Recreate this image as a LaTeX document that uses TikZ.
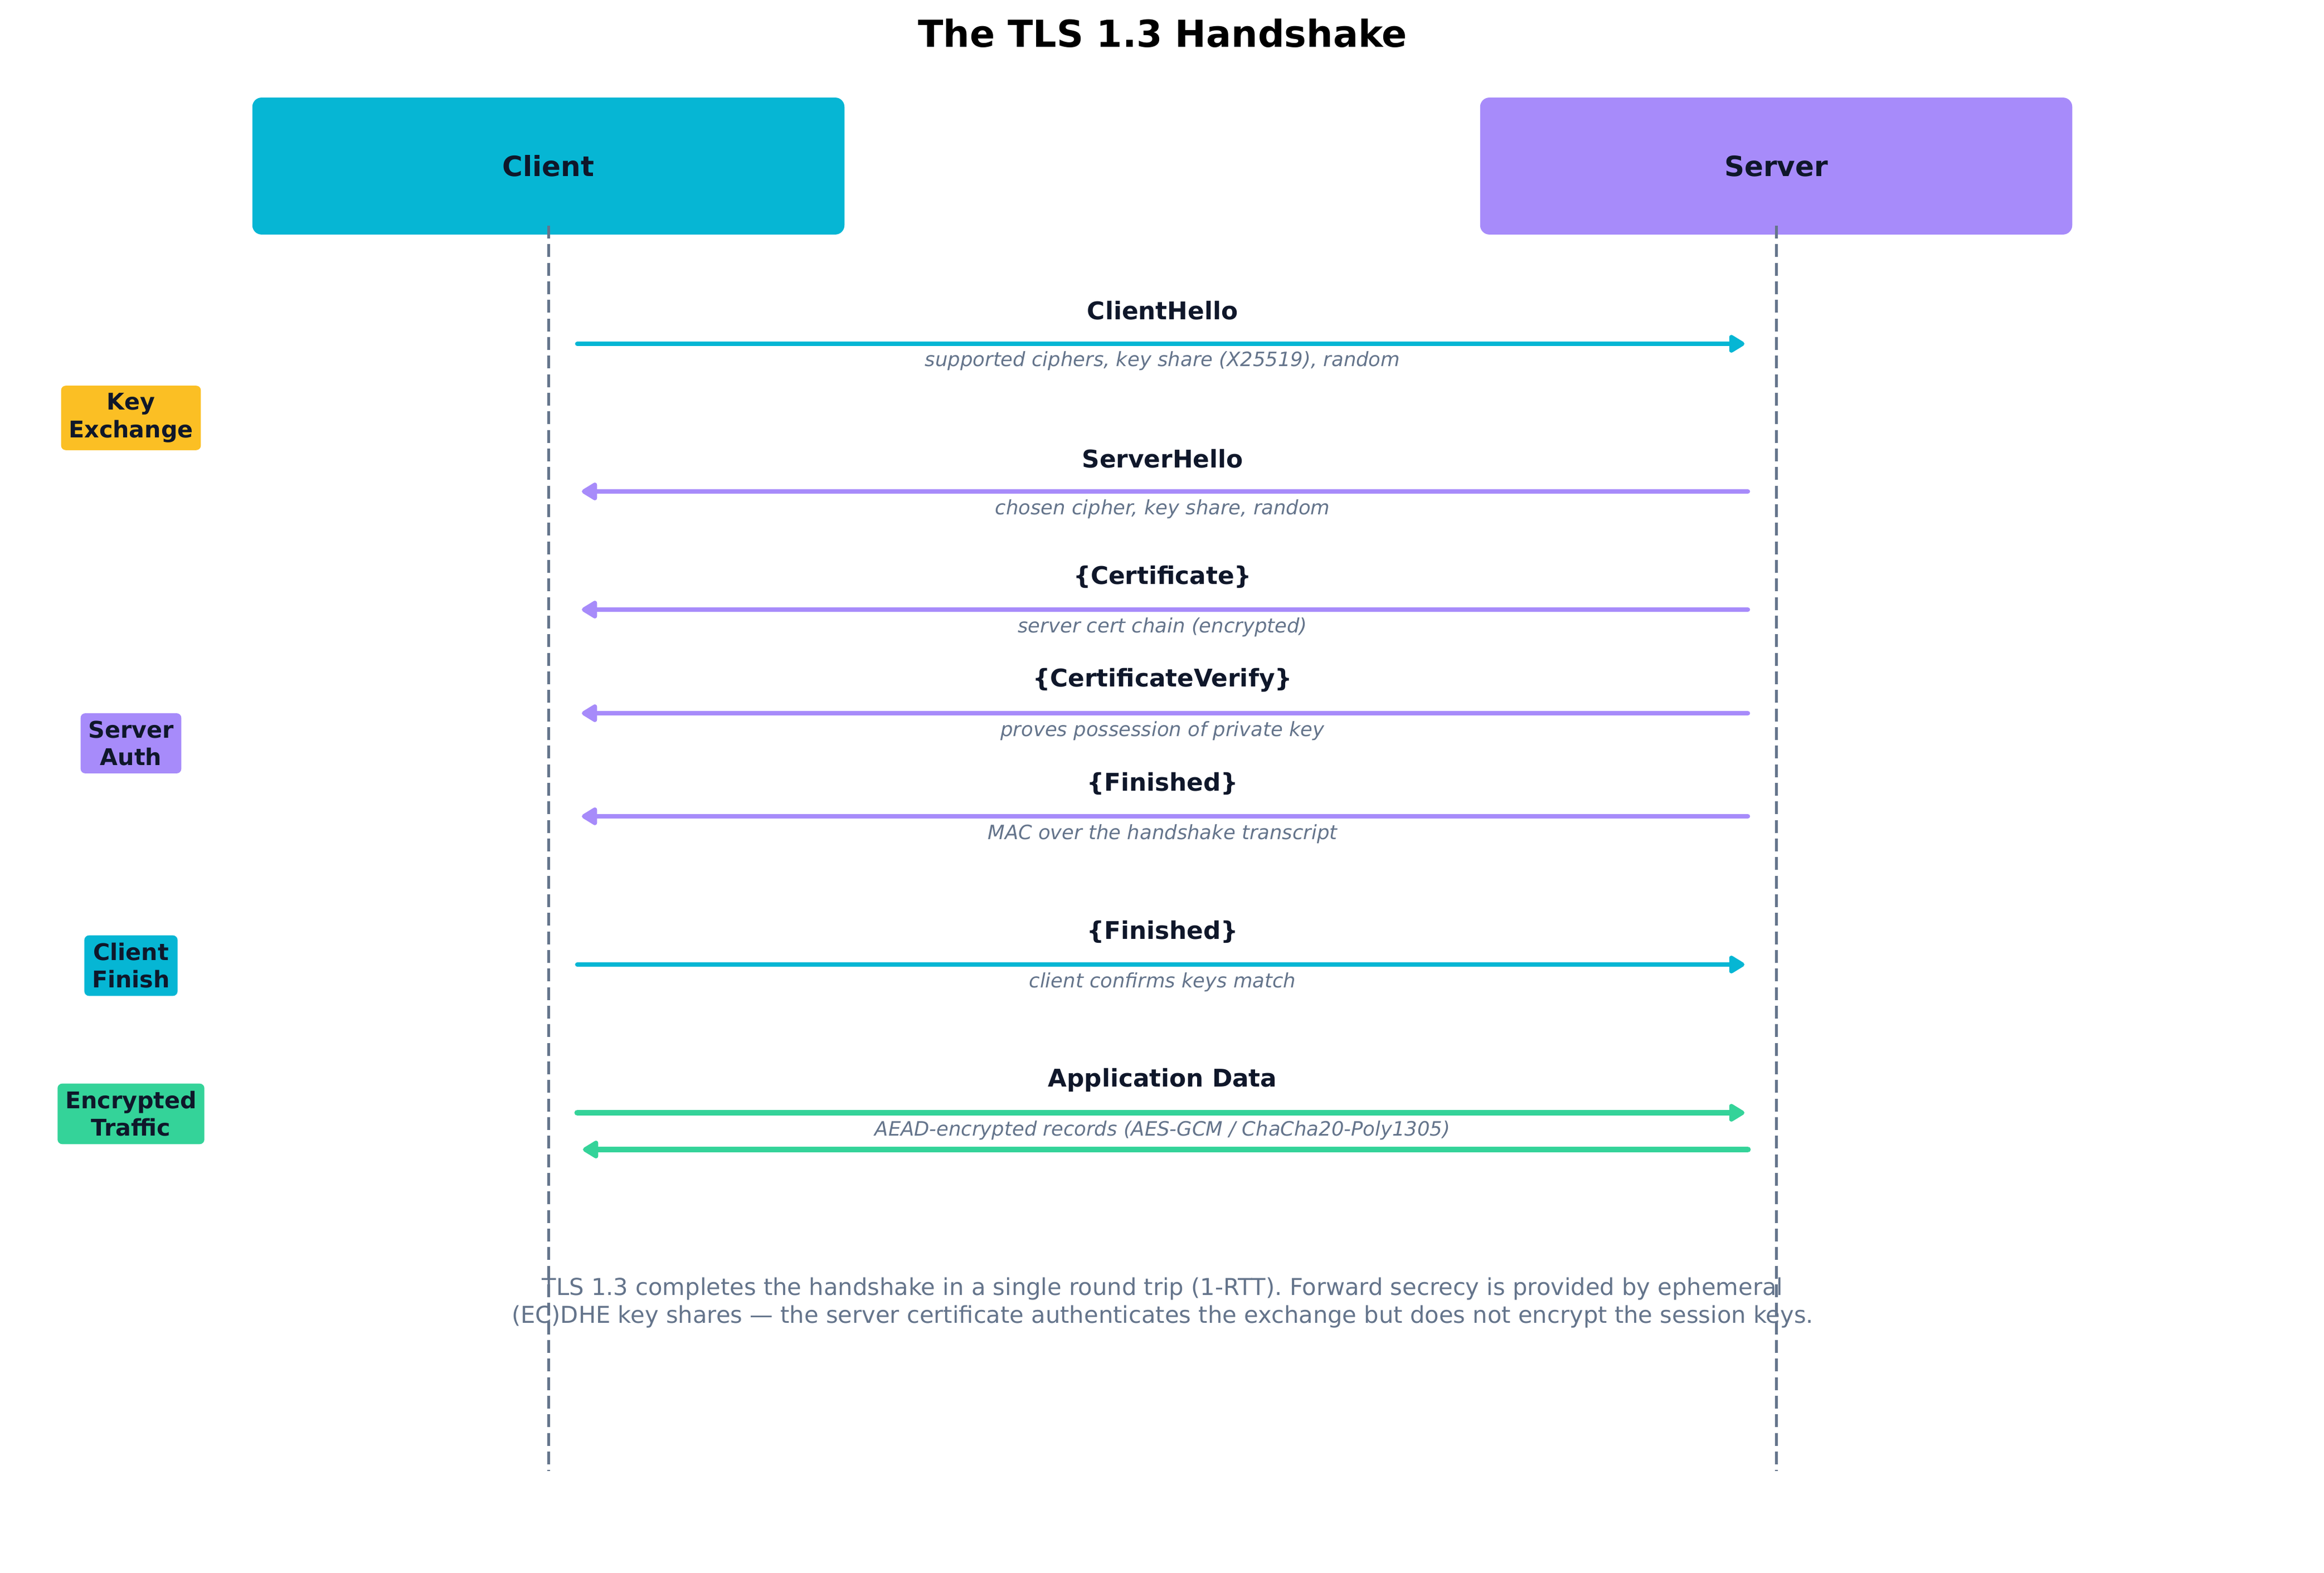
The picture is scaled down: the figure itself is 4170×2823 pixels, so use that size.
\documentclass[tikz,border=0pt]{standalone}
\usepackage{fontspec}
\setmainfont{DejaVu Sans}
\usetikzlibrary{arrows.meta}
\definecolor{clientcol}{HTML}{06B6D4}
\definecolor{servercol}{HTML}{A78BFA}
\definecolor{keycol}{HTML}{FBBF24}
\definecolor{appcol}{HTML}{34D399}
\definecolor{inkdark}{HTML}{0F172A}
\definecolor{inkslate}{HTML}{64748B}

\begin{document}
\begin{tikzpicture}[x=0.24pt, y=-0.24pt, >=Latex, line cap=round, line join=round,
	actor/.style={rounded corners=4pt, minimum width=255pt, minimum height=59pt,
		font=\fontsize{12}{14}\selectfont\bfseries, text=inkdark},
	msg/.style={font=\fontsize{10.5}{12.6}\selectfont\bfseries, text=inkdark},
	detail/.style={font=\fontsize{8.5}{10}\selectfont\itshape, text=inkslate},
	phase/.style={rounded corners=2pt, inner sep=3.3pt, align=center,
		font=\fontsize{9.9}{11.8}\selectfont\bfseries, text=inkdark},
	lifeline/.style={inkslate, line width=1.2pt, line cap=butt,
		dash pattern=on 5.5pt off 2.5pt},
	toserver/.style={clientcol, line width=2pt, -{Triangle[length=7.5pt,width=8.5pt,round]}},
	toclient/.style={servercol, line width=2pt, -{Triangle[length=7.5pt,width=8.5pt,round]}},
	appdata/.style={appcol, line width=2.6pt, -{Triangle[length=7.5pt,width=8.5pt,round]}}]

\useasboundingbox (0,0) rectangle (4170,2823);

% ==== Title and participants ====
\node[font=\fontsize{16}{19}\selectfont\bfseries] (title) at (2086,60) {The TLS 1.3 Handshake};
\node[actor, fill=clientcol] (client) at (984,298) {Client};
\node[actor, fill=servercol] (server) at (3187,298) {Server};

% footnote under the exchange
\node[align=center, text=inkslate, font=\fontsize{10}{12.2}\selectfont] (summary) at (2086,2338)
{TLS 1.3 completes the handshake in a single round trip (1-RTT). Forward secrecy is provided by ephemeral\\
	(EC)DHE key shares — the server certificate authenticates the exchange but does not encrypt the session keys.};

% lifelines
\coordinate (cTop) at (984,405);
\coordinate (cBot) at (984,2640);
\coordinate (sTop) at (3187,405);
\coordinate (sBot) at (3187,2640);
\draw[lifeline] (cTop) -- (cBot);
\draw[lifeline] (sTop) -- (sBot);

% ==== Phases ====
\node[phase, fill=keycol] (kex) at (235,750) {Key\\Exchange};
\node[phase, fill=servercol] (sauth) at (235,1334) {Server\\Auth};
\node[phase, fill=clientcol] (cfin) at (235,1733) {Client\\Finish};
\node[phase, fill=appcol] (traffic) at (235,1999) {Encrypted\\Traffic};

% ==== Messages ====
% ClientHello
\coordinate (c1) at (1036,617);
\coordinate (s1) at (3130,617);
\draw[toserver] (c1) -- (s1);
\node[msg] (m1) at (2086,557) {ClientHello};
\node[detail] (d1) at (2086,648) {supported ciphers, key share (X25519), random};

% ServerHello
\coordinate (c2) at (1044,882);
\coordinate (s2) at (3136,882);
\draw[toclient] (s2) -- (c2);
\node[msg] (m2) at (2086,823) {ServerHello};
\node[detail] (d2) at (2086,914) {chosen cipher, key share, random};

% Certificate
\coordinate (c3) at (1044,1094);
\coordinate (s3) at (3136,1094);
\draw[toclient] (s3) -- (c3);
\node[msg] (m3) at (2086,1035) {\{Certificate\}};
\node[detail] (d3) at (2086,1126) {server cert chain (encrypted)};

% CertificateVerify
\coordinate (c4) at (1044,1280);
\coordinate (s4) at (3136,1280);
\draw[toclient] (s4) -- (c4);
\node[msg] (m4) at (2086,1221) {\{CertificateVerify\}};
\node[detail] (d4) at (2086,1312) {proves possession of private key};

% server Finished
\coordinate (c5) at (1044,1465);
\coordinate (s5) at (3136,1465);
\draw[toclient] (s5) -- (c5);
\node[msg] (m5) at (2086,1406) {\{Finished\}};
\node[detail] (d5) at (2086,1497) {MAC over the handshake transcript};

% client Finished
\coordinate (c6) at (1036,1731);
\coordinate (s6) at (3130,1731);
\draw[toserver] (c6) -- (s6);
\node[msg] (m6) at (2086,1672) {\{Finished\}};
\node[detail] (d6) at (2086,1763) {client confirms keys match};

% Application Data, both ways
\coordinate (c7) at (1036,1997);
\coordinate (s7) at (3130,1997);
\coordinate (c8) at (1046,2063);
\coordinate (s8) at (3136,2063);
\draw[appdata] (c7) -- (s7);
\draw[appdata] (s8) -- (c8);
\node[msg] (m7) at (2086,1938) {Application Data};
\node[detail] (d7) at (2086,2029) {AEAD-encrypted records (AES-GCM / ChaCha20-Poly1305)};

\end{tikzpicture}
\end{document}
